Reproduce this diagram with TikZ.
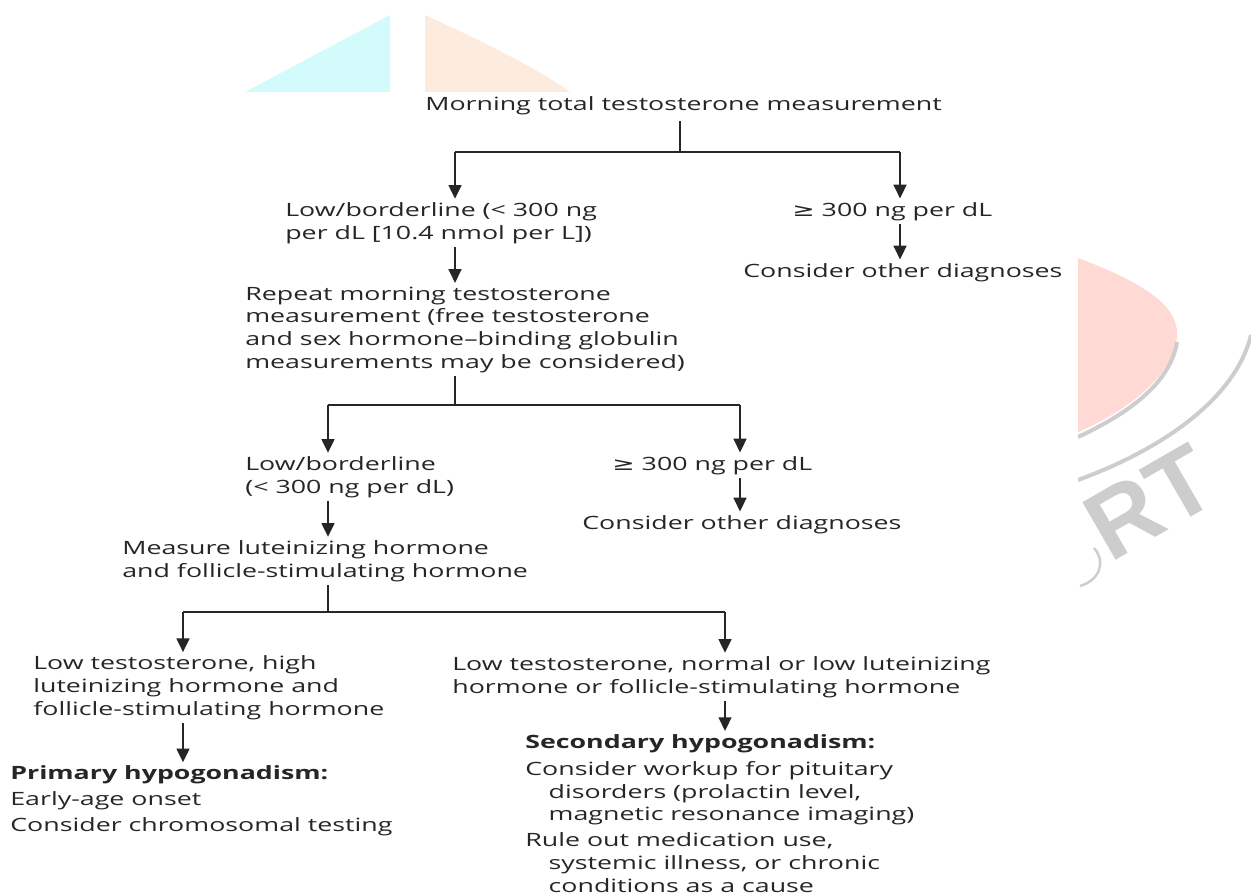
\documentclass[tikz,border=0pt]{standalone}
\usepackage{fontspec}
\setmainfont[FakeStretch=1.46]{Open Sans}
\newfontfamily\symf[FakeStretch=1.46]{DejaVu Sans}
\newfontfamily\wmfont{Liberation Sans}
\usetikzlibrary{arrows.meta}
\definecolor{txt}{HTML}{262626}
\definecolor{wmcyan}{HTML}{D3FBFB}
\definecolor{wmpeach}{HTML}{FDECDD}
\definecolor{wmpink}{HTML}{FFD9D3}
\definecolor{wmgrey}{HTML}{CDCDCD}
\begin{document}
\begin{tikzpicture}[x=0.6pt,y=-0.6pt,
  lbl/.style={anchor=base west, inner sep=0pt, align=left, text=txt,
              font=\fontsize{11}{13.6}\selectfont},
  conn/.style={draw=txt, line width=0.9pt},
  arr/.style={conn, -{Triangle[width=7.8pt,length=8.2pt]}, shorten <=2pt, shorten >=2pt},
]
\useasboundingbox (0,0) rectangle (1251,894);
% ---- watermark (behind the diagram) ----
\fill[wmcyan] (245,92) -- (390,15) -- (390,92) -- cycle;
\fill[wmpeach] (425,15) .. controls (480,40) and (540,70) .. (570,92) -- (425,92) -- cycle;
\fill[wmpink] (1078,258) .. controls (1150,285) and (1178,308) .. (1177,335)
   .. controls (1176,372) and (1130,410) .. (1078,432) -- cycle;
\draw[wmgrey, line width=2.4pt] (1177,342) .. controls (1170,385) and (1125,415) .. (1078,437);
\draw[wmgrey, line width=2.4pt] (1251,335) .. controls (1235,400) and (1160,450) .. (1078,480);
\node[text=wmgrey, font=\wmfont\bfseries\fontsize{58}{58}\selectfont, rotate=30,
      inner sep=0pt] (wm) at (1150,502) {RT};
\draw[wmgrey, line width=1.5pt] (1094,548) .. controls (1106,562) and (1100,580) .. (1080,586);
\fill[white] (0,92) rectangle (1078,894);
% ---- diagram (base anchor = baseline of the last line) ----
\node[lbl] (n1) at (425,110) {Morning total testosterone measurement};
\coordinate (c1) at (680,152);
\coordinate (c1l) at (455,152);
\coordinate (c1r) at (900,152);
\node[lbl] (n2) at (285,239) {Low/borderline (< 300 ng\\per dL [10.4 nmol per L])};
\node[lbl] (n3) at (792,216) {{\symf ≥} 300 ng per dL};
\node[lbl] (n4) at (743,277) {Consider other diagnoses};
\draw[conn, shorten <=4pt] (c1 |- n1.south) -- (c1);
\draw[conn] (c1l) -- (c1r);
\draw[arr, shorten <=0pt] (c1l) -- (c1l |- n2.north);
\draw[arr, shorten <=0pt] (c1r) -- (c1r |- n3.north);
\draw[arr] (c1r |- n3.south) -- (c1r |- n4.north);

\node[lbl] (n5) at (245,368) {Repeat morning testosterone\\measurement (free testosterone\\and sex hormone–binding globulin\\measurements may be considered)};
\draw[arr] (c1l |- n2.south) -- (c1l |- n5.north);
\coordinate (c2) at (455,405);
\coordinate (c2l) at (328,405);
\coordinate (c2r) at (740,405);
\draw[conn, shorten <=2pt] (c2 |- n5.south) -- (c2);
\draw[conn] (c2l) -- (c2r);
\node[lbl] (n6) at (245,493) {Low/borderline\\(< 300 ng per dL)};
\node[lbl] (n7) at (612,470) {{\symf ≥} 300 ng per dL};
\node[lbl] (n8) at (582,529) {Consider other diagnoses};
\draw[arr, shorten <=0pt] (c2l) -- (c2l |- n6.north);
\draw[arr, shorten <=0pt] (c2r) -- (c2r |- n7.north);
\draw[arr] (c2r |- n7.south) -- (c2r |- n8.north);

\node[lbl] (n9) at (122,577) {Measure luteinizing hormone\\and follicle-stimulating hormone};
\draw[arr] (c2l |- n6.south) -- (c2l |- n9.north);
\coordinate (c3) at (328,612);
\coordinate (c3l) at (183,612);
\coordinate (c3r) at (725,612);
\draw[conn, shorten <=2pt] (c3 |- n9.south) -- (c3);
\draw[conn] (c3l) -- (c3r);
\node[lbl] (n10) at (33,715) {Low testosterone, high\\luteinizing hormone and\\follicle-stimulating hormone};
\node[lbl] (n11) at (452,693) {Low testosterone, normal or low luteinizing\\hormone or follicle-stimulating hormone};
\draw[arr, shorten <=0pt] (c3l) -- (c3l |- n10.north);
\draw[arr, shorten <=0pt] (c3r) -- (c3r |- n11.north);

\node[lbl] (n12) at (10,831) {\textbf{Primary hypogonadism:}\\[2pt]Early-age onset\\[1.5pt]Consider chromosomal testing};
\node[lbl] (n13) at (525,892) {\textbf{Secondary hypogonadism:}\\[2.5pt]Consider workup for pituitary\\\hspace*{14pt}disorders (prolactin level,\\\hspace*{14pt}magnetic resonance imaging)\\[2pt]Rule out medication use,\\\hspace*{14pt}systemic illness, or chronic\\\hspace*{14pt}conditions as a cause};
\draw[arr] (c3l |- n10.south) -- (c3l |- n12.north);
\draw[arr] (c3r |- n11.south) -- (c3r |- n13.north);
\end{tikzpicture}
\end{document}
